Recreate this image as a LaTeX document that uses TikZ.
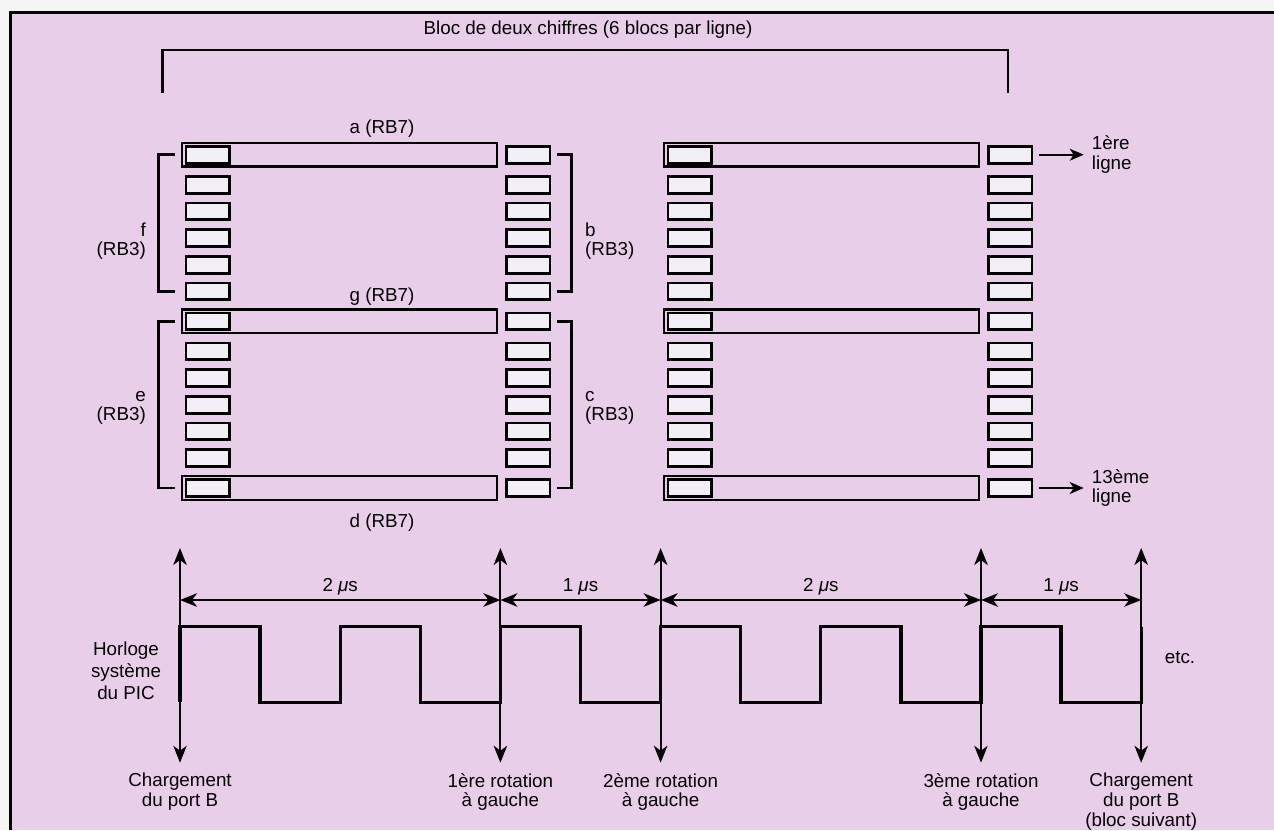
\documentclass[tikz,border=0pt]{standalone}
\usepackage{fontspec}
\setmainfont{Liberation Sans}
\usetikzlibrary{arrows.meta}

\definecolor{paper}{RGB}{233,206,233}
\definecolor{cellfill}{RGB}{242,239,246}
\definecolor{margin}{RGB}{246,245,246}

\tikzset{
  lbl/.style={inner sep=0pt, font=\fontsize{18.8}{19.6}\selectfont},
  cell/.style={draw, fill=cellfill, line width=2.8pt, inner sep=0pt,
    minimum width=43.5pt, minimum height=16.8pt},
  seg/.style={draw, line width=2.3pt, inner sep=0pt,
    minimum width=315.5pt, minimum height=23.8pt},
  brk/.style={line width=2.5pt},
  arr/.style={line width=2pt, -{Stealth[length=14pt,width=12pt,inset=4pt]}},
  evt/.style={line width=2pt, {Stealth[length=17pt,width=13.5pt,inset=5pt]}-{Stealth[length=17pt,width=13.5pt,inset=5pt]}},
  clk/.style={line width=3.3pt, line join=miter}
}

\begin{document}
\begin{tikzpicture}[x=1pt, y=-1pt, line cap=butt, line join=miter]

\useasboundingbox (0,0) rectangle (1274,830);

% -----------------------
% Paper and frame
% -----------------------
\fill[margin] (0,0) rectangle (1274,830);
\fill[paper] (10,12.7) rectangle (1274,830);
\draw[line width=3pt] (10,830) -- (10,12.7) -- (1274,12.7);

% -----------------------
% Title and bracket over the blocks
% -----------------------
\node[lbl, anchor=base] (title) at (588,34) {Bloc de deux chiffres (6 blocs par ligne)};
\draw[brk] (162.3,92.7) |- (1008,50) -- (1008,92.7);

% -----------------------
% Two digit blocks, 13 rows each
% -----------------------
\foreach \b/\dx in {L/0,R/482}{
  % long segments a, g, d
  \foreach \r/\y in {0/154.7,6/321.3,12/488}{
    \node[seg] (\b-s\r) at (339.5+\dx,\y) {};
  }
  % left and right columns of cells
  \foreach \r/\y in {0/154.7,1/184.7,2/211.3,3/238,4/264.7,5/291.3,6/321.3,
                     7/351.3,8/378,9/404.7,10/431.3,11/458,12/488}{
    \node[cell] (\b-l\r) at (207.7+\dx,\y) {};
    \node[cell] (\b-r\r) at (528.2+\dx,\y) {};
  }
}

% Segment labels
\node[lbl, anchor=base] (laba) at (382,133.5) {a (RB7)};
\node[lbl, anchor=base] (labg) at (382,301.5) {g (RB7)};
\node[lbl, anchor=base] (labd) at (382,527) {d (RB7)};

% Side brackets
\draw[brk] ([xshift=-10pt]L-l0.west) -- ++(-16,0) |- ([xshift=-10pt]L-l5.west);
\draw[brk] ([xshift=-10pt]L-l6.west) -- ++(-16,0) |- ([xshift=-10pt]L-l12.west);
\draw[brk] ([xshift=6pt]L-r0.east) -- ++(14,0) |- ([xshift=6pt]L-r5.east);
\draw[brk] ([xshift=6pt]L-r6.east) -- ++(14,0) |- ([xshift=6pt]L-r12.east);

\node[lbl, anchor=east, align=right] (labf) at (146,241) {f\\(RB3)};
\node[lbl, anchor=east, align=right] (labe) at (146,407.7) {e\\(RB3)};
\node[lbl, anchor=west, align=left] (labb) at (585,241) {b\\(RB3)};
\node[lbl, anchor=west, align=left] (labc) at (585,407.7) {c\\(RB3)};

% Row pointers
\node[lbl, anchor=west, align=left] (row1) at (1091.7,154.7) {1ère\\ligne};
\node[lbl, anchor=west, align=left] (row13) at (1091.7,488) {13ème\\ligne};
\draw[arr] ([xshift=6pt]R-r0.east) -- ([xshift=-8pt]R-r0.east -| row1.west);
\draw[arr] ([xshift=6pt]R-r12.east) -- ([xshift=-8pt]R-r12.east -| row13.west);

% -----------------------
% Timing of the PIC clock
% -----------------------
\def\hp{80.1}     % half period of the clock
\def\xo{180}      % first loading
\def\yhi{626.7}   % clock high
\def\ylo{702.3}   % clock low

\foreach \n/\k in {0/0,1/4,2/6,3/10,4/12}{
  \coordinate (ev\n-t) at ({\xo+\k*\hp},548);
  \coordinate (ev\n-b) at ({\xo+\k*\hp},762.7);
  \coordinate (dim\n) at ({\xo+\k*\hp},600);
  \draw[evt] (ev\n-t) -- (ev\n-b);
}

\draw[clk] (\xo,\ylo)
  \foreach \i in {0,...,5}{
    -- ({\xo+2*\i*\hp},\yhi) -- ({\xo+(2*\i+1)*\hp},\yhi)
    -- ({\xo+(2*\i+1)*\hp},\ylo) -- ({\xo+(2*\i+2)*\hp},\ylo)
  } -- ({\xo+12*\hp},\yhi);

% Durations
\foreach \p/\q/\t in {0/1/2,1/2/1,2/3/2,3/4/1}{
  \draw[evt] (dim\p) -- node[lbl, anchor=base, yshift=8.3pt] {\t~\textit{μ}s} (dim\q);
}

\node[lbl, align=center, font=\fontsize{18.8}{22}\selectfont] (clklbl) at (126,671) {Horloge\\système\\du PIC};
\node[lbl, anchor=base] (etc) at (1180,663.3) {etc.};

% Events below the arrows
\node[lbl, anchor=north, align=center] (cap0) at ([yshift=-10.3pt]ev0-b) {Chargement\\du port B};
\node[lbl, anchor=north, align=center] (cap1) at ([yshift=-10.3pt]ev1-b) {1ère rotation\\à gauche};
\node[lbl, anchor=north, align=center] (cap2) at ([yshift=-10.3pt]ev2-b) {2ème rotation\\à gauche};
\node[lbl, anchor=north, align=center] (cap3) at ([yshift=-10.3pt]ev3-b) {3ème rotation\\à gauche};
\node[lbl, anchor=north, align=center] (cap4) at ([yshift=-10.3pt]ev4-b) {Chargement\\du port B\\(bloc suivant)};

\end{tikzpicture}
\end{document}
